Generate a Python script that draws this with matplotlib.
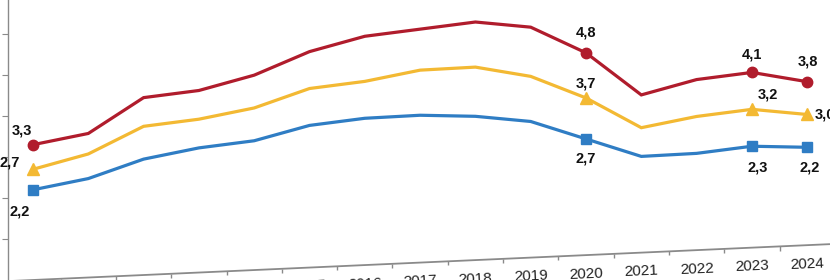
#!/usr/bin/env python3

import numpy as np
import matplotlib
matplotlib.use('Agg')
import matplotlib.pyplot as plt
from matplotlib.transforms import Affine2D

years = np.arange(2010, 2025)
red_vals = [3.3, 3.5, 4.3, 4.4, 4.7, 5.2, 5.5, 5.6, 5.7, 5.5, 4.8, 3.7, 4.0, 4.1, 3.8]
yellow_vals = [2.7, 3.0, 3.6, 3.7, 3.9, 4.3, 4.4, 4.6, 4.6, 4.3, 3.7, 2.9, 3.1, 3.2, 3.0]
blue_vals = [2.2, 2.4, 2.8, 3.0, 3.1, 3.4, 3.5, 3.5, 3.4, 3.2, 2.7, 2.2, 2.2, 2.3, 2.2]

# only these points get a marker and a label
marked = [0, 10, 13, 14]

RED = '#B01C2C'
YELLOW = '#F3B933'
BLUE = '#2F7DC4'
GREY = '#8a8a8a'


def fmt(v):
    return f'{v:.1f}'.replace('.', ',')


def sheared(ax, k, pivot=33):
    # the source picture is a slightly tilted photo: shear in display space
    m = np.array([[1, 0, 0], [k, 1, -k * pivot], [0, 0, 1]])
    return ax.transData + Affine2D(m)


def main():
    plt.rcParams['font.family'] = ['Liberation Sans Narrow', 'Liberation Sans', 'DejaVu Sans']

    fig = plt.figure(figsize=(8.3, 2.8), dpi=100)
    ax = fig.add_axes([8 / 830, 0, 822 / 830, 1])
    ax.set_xlim(2010 - 25 / 55.3, 2010 + 797 / 55.3)
    ax.set_ylim(0, 280 / 41)

    tr = sheared(ax, 0.0549)
    axis_tr = sheared(ax, 0.045)

    series = [
        (red_vals, RED, 'o', 7.5, [(-11, 14), (0, 20), (0, 18), (1, 20)]),
        (yellow_vals, YELLOW, '^', 8.5, [(-23, 7), (0, 14), (16, 15), (18, 0)]),
        (blue_vals, BLUE, 's', 7, [(-13, -22), (0, -20), (6, -21), (2, -20)]),
    ]
    for vals, col, mk, ms, offsets in series:
        ax.plot(years, vals, color=col, lw=2.3, marker=mk, ms=ms, markevery=marked,
                transform=tr, clip_on=False, solid_joinstyle='miter')
        for i, off in zip(marked, offsets):
            ax.annotate(fmt(vals[i]), (years[i], vals[i]), xycoords=tr,
                        xytext=off, textcoords='offset pixels',
                        ha='center', va='center', fontsize=10.5, fontweight='bold',
                        color='#111111')

    # hand made x axis, tilted like the photo
    x0, x1 = ax.get_xlim()
    ax.hlines(0, x0, x1, colors=GREY, lw=1.3, transform=axis_tr, clip_on=False)
    ax.vlines(years[:-1] + 0.5, -0.1, 0, colors=GREY, lw=1, transform=axis_tr, clip_on=False)
    for y in years:
        ax.annotate(str(y), (y, 0), xycoords=axis_tr, xytext=(0, -11), textcoords='offset pixels',
                    ha='center', va='top', fontsize=11, rotation=2.5, color='#222222')

    for side in ['top', 'right', 'bottom']:
        ax.spines[side].set_visible(False)
    ax.spines['left'].set_color(GREY)
    ax.spines['left'].set_linewidth(1)
    ax.set_xticks([])
    ax.set_yticks(range(1, 7))
    ax.tick_params(axis='y', length=4, color=GREY, labelleft=False)

    fig.savefig('out.png', dpi=100)


if __name__ == '__main__':
    main()
